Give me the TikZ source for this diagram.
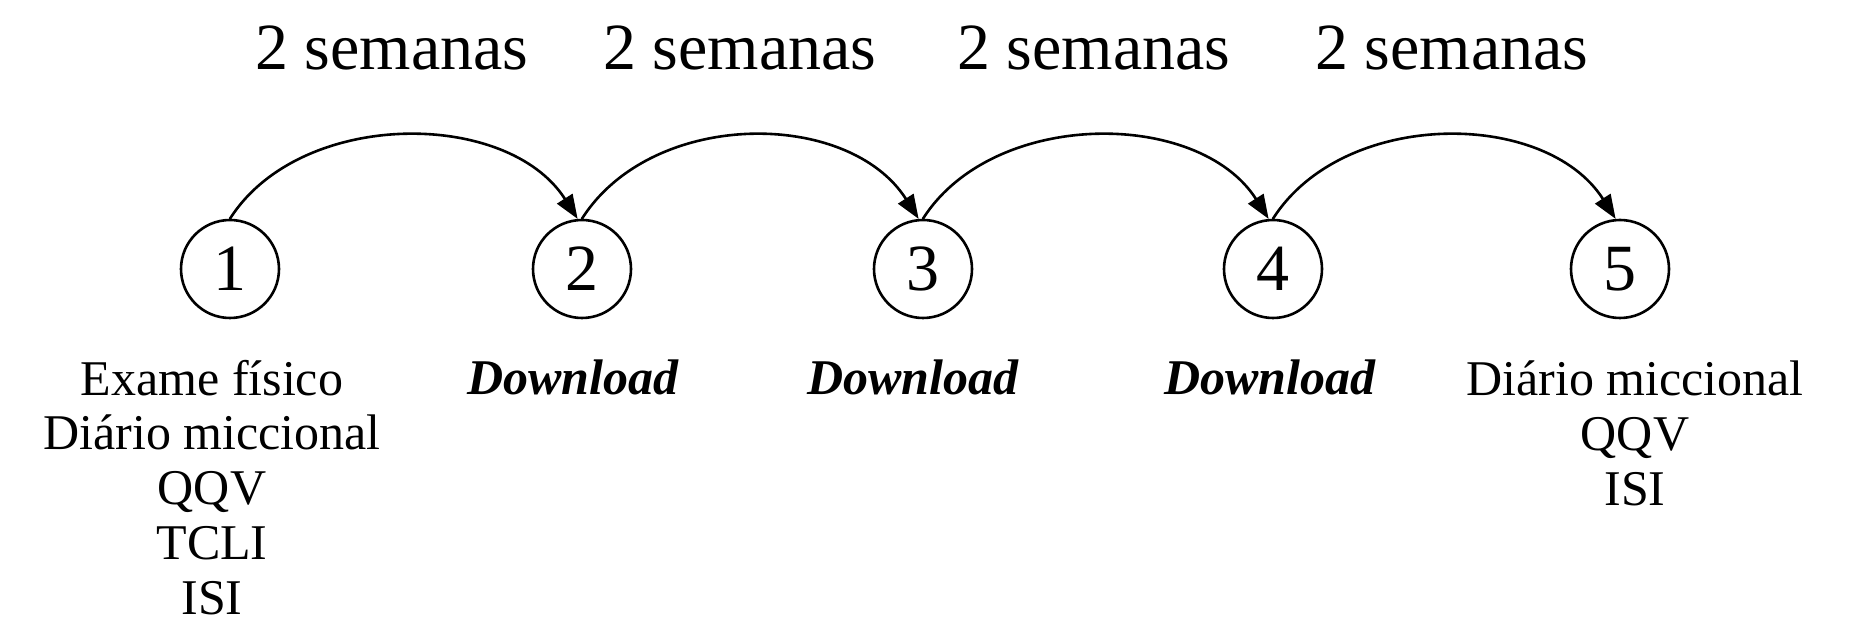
\documentclass[tikz,border=0pt]{standalone}
\usepackage{fontspec}
\setmainfont{Liberation Serif}
\usetikzlibrary{arrows.meta}

\tikzset{
  etapa/.style={draw,circle,line width=1.3pt,minimum size=49pt,inner sep=0pt,font=\fontsize{33}{36}\selectfont},
  prazo/.style={anchor=base,font=\fontsize{33}{36}\selectfont},
  coleta/.style={anchor=base,align=center,font=\fontsize{25}{27.5}\selectfont},
  salto/.style={->,line width=1.3pt}
}

\begin{document}
\begin{tikzpicture}[line cap=round,line join=round,>={Triangle[length=12pt,width=9pt]},x=0.5pt,y=0.5pt]
			\useasboundingbox (0,0) rectangle (1865,627);
			% visitas
			\node[etapa] (e1) at (230,358) {1};
			\node[etapa] (e2) at (582,358) {2};
			\node[etapa] (e3) at (923,358) {3};
			\node[etapa] (e4) at (1273,358) {4};
			\node[etapa] (e5) at (1620,358) {5};
			% intervalos
			\draw [salto] (e1.north) .. controls +(70,110) and +(-70,110) .. (e2.95);
			\draw [salto] (e2.north) .. controls +(70,110) and +(-70,110) .. (e3.95);
			\draw [salto] (e3.north) .. controls +(70,110) and +(-70,110) .. (e4.95);
			\draw [salto] (e4.north) .. controls +(70,110) and +(-70,110) .. (e5.95);
			\node[prazo] (p1) at (392,557) {2 semanas};
			\node[prazo] (p2) at (740,557) {2 semanas};
			\node[prazo] (p3) at (1094,557) {2 semanas};
			\node[prazo] (p4) at (1452,557) {2 semanas};
			% instrumentos (base = ultima linha)
			\node[coleta] (c1) at (212,12) {Exame físico\\Diário miccional\\QQV\\TCLI\\ISI};
			\node[coleta] (c2) at (573,232) {\bfseries\itshape Download};
			\node[coleta] (c3) at (913,232) {\bfseries\itshape Download};
			\node[coleta] (c4) at (1270,232) {\bfseries\itshape Download};
			\node[coleta] (c5) at (1635,121) {Diário miccional\\QQV\\ISI};
		\end{tikzpicture}
\end{document}
